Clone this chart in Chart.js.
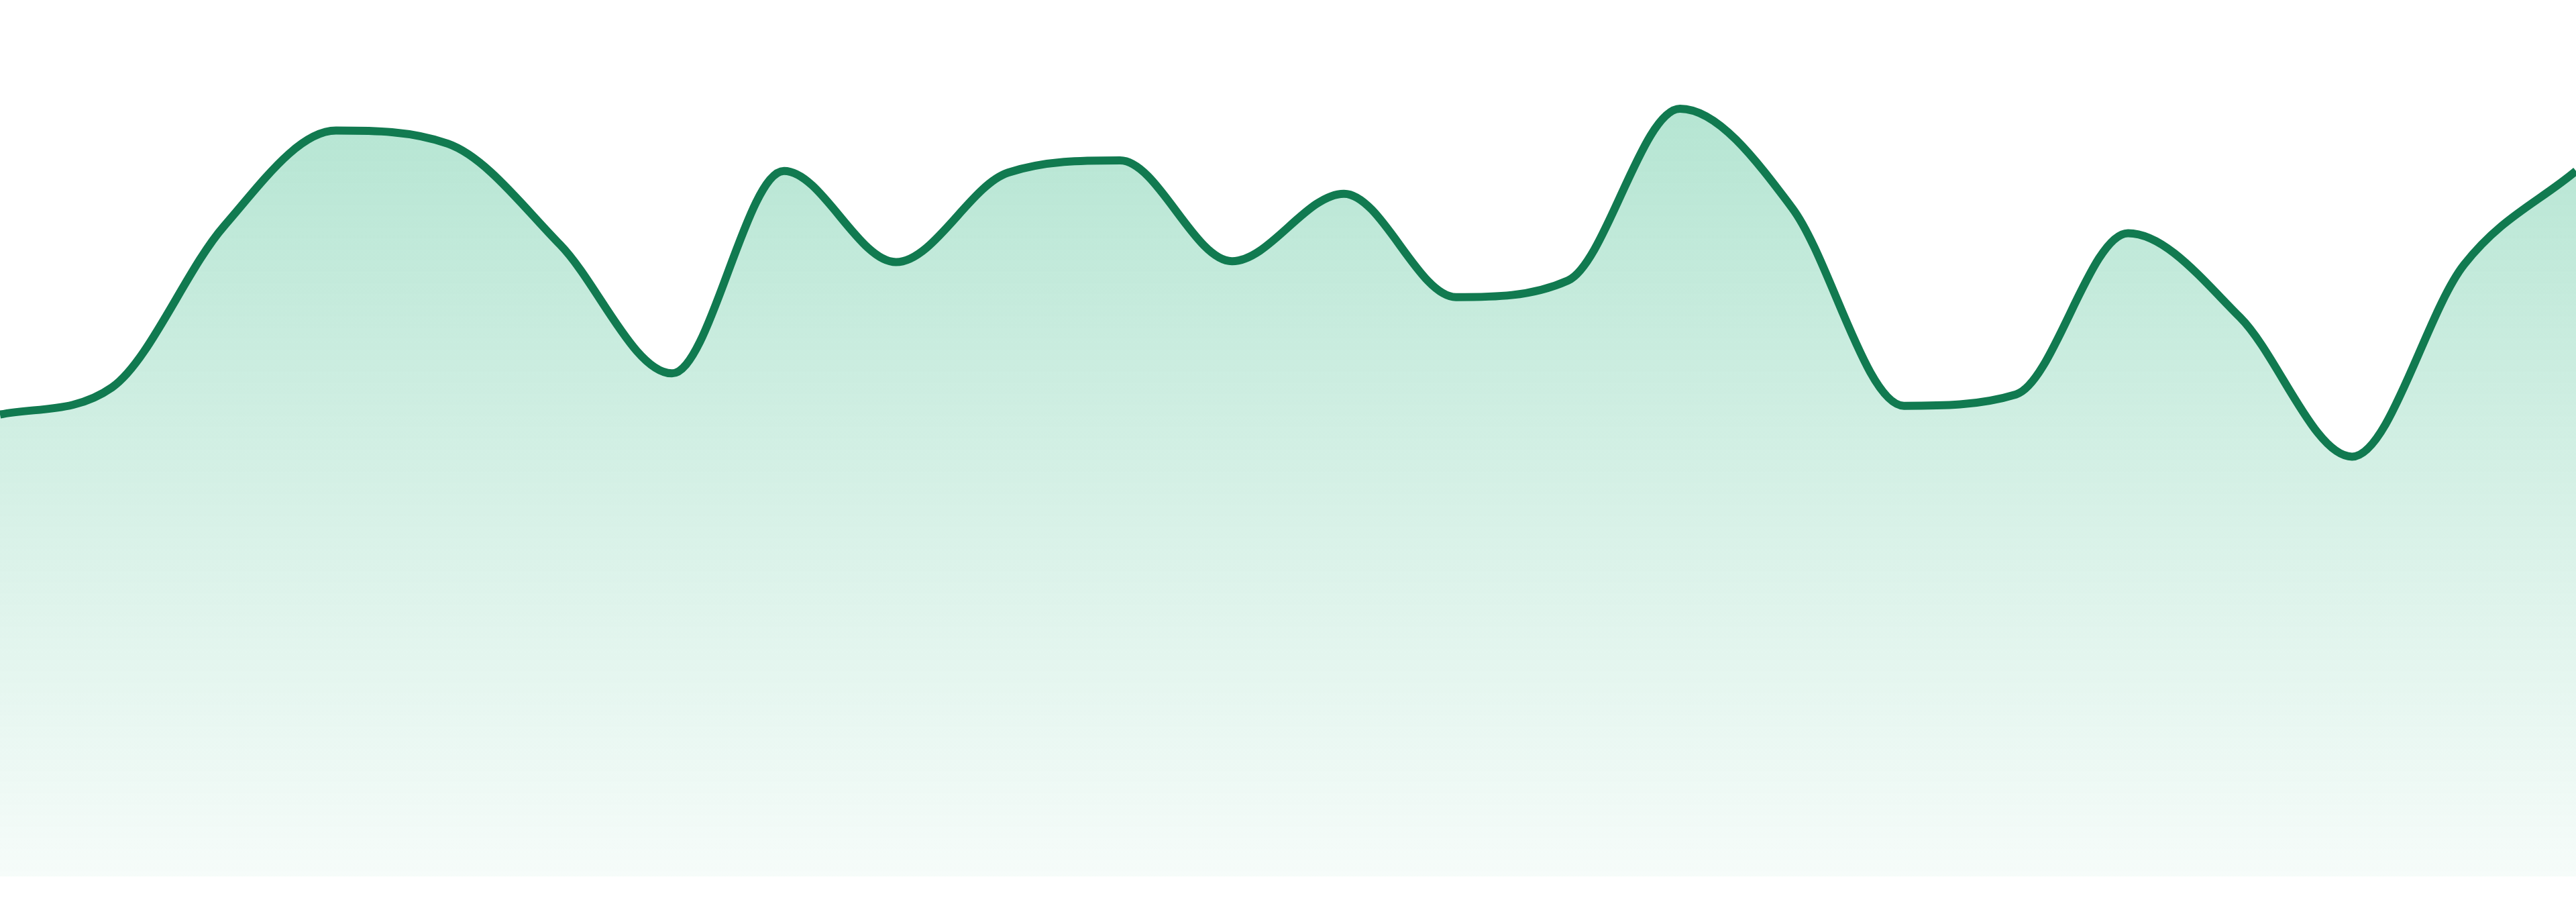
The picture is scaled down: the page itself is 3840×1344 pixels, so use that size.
<!DOCTYPE html>
<html>
<head>
<meta charset="utf-8">
<script src="https://cdn.jsdelivr.net/npm/chart.js@4"></script>
<style>
    html, body { margin: 0; padding: 0; background: #fff; }
    #wrap { width: 3840px; height: 1344px; position: relative; }
</style>
</head>
<body>
<div id="wrap"><canvas id="chart"></canvas></div>
<script>
// 24 evenly spaced samples, no axes shown
let labels = ['1', '2', '3', '4', '5', '6', '7', '8', '9', '10', '11', '12',
              '13', '14', '15', '16', '17', '18', '19', '20', '21', '22', '23', '24'];
let values = [52.7, 55.8, 74.2, 85.1, 83.6, 72.1, 57.4, 80.5, 70.1, 80.3, 81.7, 70.2,
              77.9, 66.1, 68.0, 87.6, 76.3, 53.7, 55.0, 73.4, 63.8, 47.9, 69.8, 80.5];
let yRange = [0, 100];

let lineColor = "#117a50";

function fillGradient(context) {
    let chart = context.chart;
    let area = chart.chartArea;
    if (!area) return "rgba(18, 172, 112, 0.3)";
    let grad = chart.ctx.createLinearGradient(0, area.top, 0, area.bottom);
    grad.addColorStop(0, "rgba(18, 172, 112, 0.35)");
    grad.addColorStop(1, "rgba(18, 172, 112, 0.04)");
    return grad;
}

let ctx = document.getElementById("chart").getContext("2d");

const chart = new Chart(ctx, {
    type: 'line',
    data: {
        labels: labels,
        datasets: [{
            data: values,
            borderColor: lineColor,
            borderWidth: 12,
            backgroundColor: fillGradient,
            fill: 'start',
            cubicInterpolationMode: 'monotone',
            pointRadius: 0,
            pointHoverRadius: 0
        }]
    },
    options: {
        responsive: true,
        maintainAspectRatio: false,
        animation: false,
        layout: { autoPadding: false, padding: { top: 0, bottom: 38, left: 0, right: 0 } },
        scales: {
            x: { display: false, offset: false },
            y: { display: false, min: yRange[0], max: yRange[1] }
        },
        plugins: {
            legend: { display: false },
            tooltip: { enabled: false }
        }
    }
});
</script>
</body>
</html>
